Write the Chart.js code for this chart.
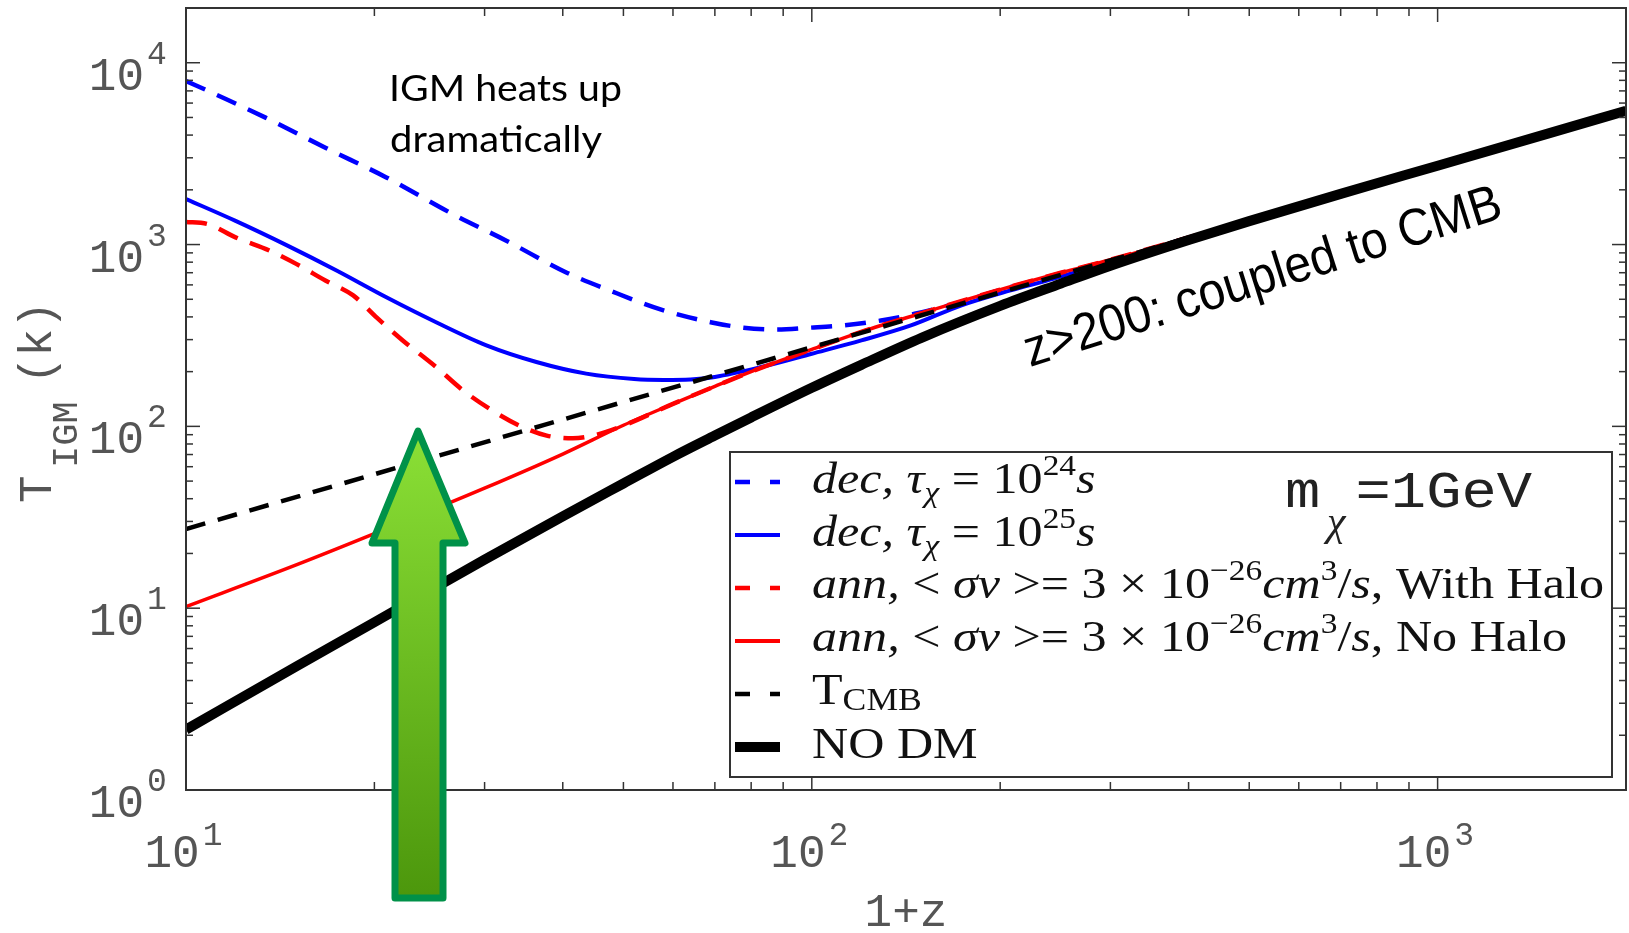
<!DOCTYPE html>
<html>
<head>
<meta charset="utf-8">
<script src="https://cdn.jsdelivr.net/npm/chart.js@4.4.1/dist/chart.umd.min.js"></script>
<style>
  html, body { margin: 0; padding: 0; background: #fff; }
  #wrap { width: 1629px; height: 933px; }
</style>
</head>
<body>
<div id="wrap"><canvas id="tigm" width="1629" height="933"></canvas></div>
<script>
// --- datos (1+z, T en K) ---
const zNoDM = [10, 15, 20, 30, 40, 50, 60, 70, 80, 100, 120, 150, 200, 250, 300, 400, 500, 700, 1000, 1500, 2000];
const tNoDM = [2.15, 4.78, 8.37, 18.5, 32, 48.5, 68, 89, 112, 163, 218, 308, 460, 610, 765, 1060, 1345, 1900, 2715, 4075, 5440];

const zCMB = [10, 2000];
const tCMB = [27.25, 5450];

const zDec24 = [10, 11.6, 13.4, 16.7, 20.9, 26.7, 32.5, 40.6, 47.6, 57.3, 68.9, 77.8, 87.9, 99.5, 112, 129, 146, 173, 207, 243, 300, 400, 500, 700, 1000, 2000];
const tDec24 = [7940, 6300, 4990, 3410, 2340, 1470, 1050, 700, 558, 440, 374, 349, 341, 349, 359, 382, 416, 482, 582, 660, 815, 1090, 1362, 1907, 2725, 5450];

const zDec25 = [10, 12, 14.5, 17.4, 20.9, 25.1, 30.2, 36.3, 43.6, 52, 58, 64, 70, 83, 100, 120, 144, 173, 207, 243, 300, 400, 500, 700, 1000, 2000];
const tDec25 = [1780, 1350, 990, 720, 513, 374, 279, 226, 195, 182, 180, 181, 187, 212, 251, 297, 359, 462, 558, 648, 805, 1085, 1360, 1905, 2722, 5448];

const zAnnHalo = [10, 10.8, 12, 13.6, 15, 16.7, 18.5, 20.2, 22.2, 25.1, 27.7, 30.9, 34.1, 37.7, 41.5, 44.7, 50, 60, 70, 80, 100, 120, 150, 200, 250, 300, 400, 500, 700, 1000, 2000];
const tAnnHalo = [1330, 1300, 1096, 926, 783, 634, 525, 395, 297, 212, 158, 122, 101, 89, 86, 89, 101, 133, 166, 200, 265, 331, 420, 565, 700, 825, 1095, 1365, 1908, 2725, 5450];

const zAnnNoHalo = [10, 15, 20, 30, 40, 50, 60, 70, 80, 100, 120, 150, 200, 250, 300, 400, 500, 700, 1000, 2000];
const tAnnNoHalo = [10.2, 17.3, 25.7, 45.7, 70.4, 101.4, 133, 166, 200, 265, 331, 420, 565, 700, 825, 1095, 1365, 1908, 2725, 5450];

// ticks
const xMajor = [10, 100, 1000];
const xExp = ['1', '2', '3'];
const yMajor = [1, 10, 100, 1000, 10000];
const yExp = ['0', '1', '2', '3', '4'];

const serie = (xs, ys, color, width, dash, order) => ({
    data: xs.map((x, i) => ({ x: x, y: ys[i] })),
    borderColor: color,
    borderWidth: width,
    borderDash: dash,
    borderCapStyle: 'butt',
    order: order,
    pointRadius: 0,
    fill: false,
    cubicInterpolationMode: 'monotone'
});

const MONO = '"Liberation Mono", "DejaVu Sans Mono", monospace';
const SERIF = '"Liberation Serif", "DejaVu Serif", serif';
const GRIS = '#555';

// dibuja texto con varias fuentes seguidas
function anchoRico(ctx, partes) {
    let w = 0;
    partes.forEach(p => { ctx.font = p.f; w += ctx.measureText(p.t).width; });
    return w;
}
function textoRico(ctx, x, y, partes, sx) {
    ctx.save();
    ctx.translate(x, y);
    ctx.scale(sx, 1);
    let cx = 0;
    partes.forEach(p => {
        ctx.font = p.f;
        ctx.fillText(p.t, cx, p.dy || 0);
        cx += ctx.measureText(p.t).width;
    });
    ctx.restore();
}
function textoAjustado(ctx, txt, x, y, font, ancho) {
    ctx.font = font;
    const sx = ancho / ctx.measureText(txt).width;
    ctx.save();
    ctx.translate(x, y);
    ctx.scale(sx, 1);
    ctx.fillText(txt, 0, 0);
    ctx.restore();
}

const fondo = {
    id: 'fondo',
    beforeDraw(chart) {
        const ctx = chart.ctx;
        ctx.save();
        ctx.fillStyle = '#fff';
        ctx.fillRect(0, 0, chart.width, chart.height);
        ctx.restore();
    }
};

const ejes = {
    id: 'ejes',
    afterDatasetsDraw(chart) {
        const ctx = chart.ctx;
        const a = chart.chartArea;
        const sx = chart.scales.x, sy = chart.scales.y;
        ctx.save();

        // --- leyenda ---
        const lx = 730, ly = 452, lw = 882, lh = 325;
        ctx.fillStyle = '#fff';
        ctx.fillRect(lx, ly, lw, lh);
        ctx.strokeStyle = '#333';
        ctx.lineWidth = 2;
        ctx.strokeRect(lx, ly, lw, lh);

        const muestras = [
            { c: '#0000ff', w: 4.5, d: [15, 20], y: 482 },
            { c: '#0000ff', w: 4, d: [], y: 535 },
            { c: '#ff0000', w: 4.5, d: [15, 20], y: 588 },
            { c: '#ff0000', w: 4, d: [], y: 641 },
            { c: '#000000', w: 4.5, d: [15, 20], y: 694 },
            { c: '#000000', w: 10, d: [], y: 747 }
        ];
        muestras.forEach(m => {
            ctx.beginPath();
            ctx.strokeStyle = m.c;
            ctx.lineWidth = m.w;
            ctx.setLineDash(m.d);
            ctx.moveTo(735, m.y);
            ctx.lineTo(780, m.y);
            ctx.stroke();
        });
        ctx.setLineDash([]);

        const I = 'italic 45px ' + SERIF, R = '45px ' + SERIF;
        const Is = 'italic 30px ' + SERIF, Rs = '30px ' + SERIF;
        const filas = [
            [{ t: 'dec,', f: I }, { t: ' ', f: R }, { t: 'τ', f: I }, { t: 'χ', f: Is, dy: 9 }, { t: ' = 10', f: R }, { t: '24', f: Rs, dy: -18 }, { t: 's', f: I }],
            [{ t: 'dec,', f: I }, { t: ' ', f: R }, { t: 'τ', f: I }, { t: 'χ', f: Is, dy: 9 }, { t: ' = 10', f: R }, { t: '25', f: Rs, dy: -18 }, { t: 's', f: I }],
            [{ t: 'ann,', f: I }, { t: ' < ', f: R }, { t: 'σv', f: I }, { t: ' >= 3 × 10', f: R }, { t: '−26', f: Rs, dy: -18 }, { t: 'cm', f: I }, { t: '3', f: Rs, dy: -18 }, { t: '/', f: R }, { t: 's', f: I }, { t: ', With Halo', f: R }],
            [{ t: 'ann,', f: I }, { t: ' < ', f: R }, { t: 'σv', f: I }, { t: ' >= 3 × 10', f: R }, { t: '−26', f: Rs, dy: -18 }, { t: 'cm', f: I }, { t: '3', f: Rs, dy: -18 }, { t: '/', f: R }, { t: 's', f: I }, { t: ', No Halo', f: R }],
            [{ t: 'T', f: R }, { t: 'CMB', f: '32px ' + SERIF, dy: 6 }],
            [{ t: 'NO DM', f: R }]
        ];
        const bases = [493, 546, 598, 651, 704, 758];
        const escala = 792 / anchoRico(ctx, filas[2]);
        ctx.fillStyle = '#111';
        ctx.textAlign = 'left';
        ctx.textBaseline = 'alphabetic';
        filas.forEach((f, i) => textoRico(ctx, 812, bases[i], f, escala));

        // m_chi = 1GeV
        ctx.fillStyle = '#222';
        textoAjustado(ctx, 'm =1GeV', 1285, 507, '52px ' + MONO, 247);
        ctx.font = 'italic 42px ' + SERIF;
        ctx.fillText('χ', 1327, 535);

        // --- marco y marcas hacia dentro ---
        ctx.strokeStyle = '#333';
        ctx.lineWidth = 1.5;
        const raya = (x1, y1, x2, y2) => { ctx.beginPath(); ctx.moveTo(x1, y1); ctx.lineTo(x2, y2); ctx.stroke(); };
        const xMenor = [], yMenor = [];
        xMajor.forEach(v => { for (let k = 2; k <= 9; k++) if (v * k < 2000) xMenor.push(v * k); });
        yMajor.forEach(v => { for (let k = 2; k <= 9; k++) if (v * k < 20000) yMenor.push(v * k); });
        xMajor.forEach(v => { const p = sx.getPixelForValue(v); raya(p, a.bottom, p, a.bottom - 14); raya(p, a.top, p, a.top + 14); });
        xMenor.forEach(v => { const p = sx.getPixelForValue(v); raya(p, a.bottom, p, a.bottom - 8); raya(p, a.top, p, a.top + 8); });
        yMajor.forEach(v => { const p = sy.getPixelForValue(v); raya(a.left, p, a.left + 14, p); raya(a.right, p, a.right - 14, p); });
        yMenor.forEach(v => { const p = sy.getPixelForValue(v); raya(a.left, p, a.left + 7, p); raya(a.right, p, a.right - 7, p); });
        ctx.lineWidth = 2;
        ctx.strokeRect(a.left, a.top, a.right - a.left, a.bottom - a.top);

        // --- etiquetas de los ejes ---
        const F46 = '46px ' + MONO, F33 = '33px ' + MONO;
        ctx.fillStyle = GRIS;
        yMajor.forEach((v, i) => {
            const p = sy.getPixelForValue(v);
            ctx.textAlign = 'right'; ctx.font = F46; ctx.fillText('10', 144, p + 27);
            ctx.textAlign = 'left'; ctx.font = F33; ctx.fillText(yExp[i], 147, p + 1);
        });
        ctx.textAlign = 'left';
        xMajor.forEach((v, i) => {
            const p = sx.getPixelForValue(v);
            ctx.font = F46; const w1 = ctx.measureText('10').width;
            ctx.font = F33; const w2 = ctx.measureText(xExp[i]).width;
            const x0 = p - (w1 + 2 + w2) / 2 - 3;
            ctx.font = F46; ctx.fillText('10', x0, 867);
            ctx.font = F33; ctx.fillText(xExp[i], x0 + w1 + 3, 845);
        });
        ctx.font = F46;
        ctx.textAlign = 'center';
        ctx.fillText('1+z', 906, 926);

        ctx.save();
        ctx.translate(51, 503);
        ctx.rotate(-Math.PI / 2);
        ctx.textAlign = 'left';
        ctx.font = F46; ctx.fillText('T', 0, 0);
        ctx.font = '37px ' + MONO; ctx.fillText('IGM', 35, 26);
        ctx.font = F46; ctx.fillText('(k)', 119, 0);
        ctx.restore();

        // --- flecha verde ---
        ctx.beginPath();
        ctx.moveTo(418, 431);
        ctx.lineTo(465, 543);
        ctx.lineTo(443, 543);
        ctx.lineTo(443, 898);
        ctx.lineTo(395, 898);
        ctx.lineTo(395, 543);
        ctx.lineTo(372, 543);
        ctx.closePath();
        const grad = ctx.createLinearGradient(0, 431, 0, 898);
        grad.addColorStop(0, '#8be036');
        grad.addColorStop(1, '#4c970c');
        ctx.fillStyle = grad;
        ctx.fill();
        ctx.lineJoin = 'round';
        ctx.lineWidth = 7;
        ctx.strokeStyle = '#009149';
        ctx.stroke();

        // --- anotaciones ---
        ctx.fillStyle = '#000';
        ctx.textAlign = 'left';
        textoAjustado(ctx, 'IGM heats up', 389, 101, '36px Lato, "Open Sans", sans-serif', 233);
        textoAjustado(ctx, 'dramatically', 390, 152, '36px Lato, "Open Sans", sans-serif', 212);

        ctx.save();
        ctx.translate(1030, 367);
        ctx.rotate(-17.5 * Math.PI / 180);
        textoAjustado(ctx, 'z>200: coupled to CMB', 0, 0, '52px "Liberation Sans", Arial, sans-serif', 498);
        ctx.restore();

        ctx.restore();
    }
};

new Chart(document.getElementById('tigm').getContext('2d'), {
    type: 'line',
    data: {
        datasets: [
            serie(zNoDM, tNoDM, '#000000', 10, [], 0),
            serie(zCMB, tCMB, '#000000', 4.5, [20, 13], 1),
            serie(zAnnNoHalo, tAnnNoHalo, '#ff0000', 3.5, [], 2),
            serie(zAnnHalo, tAnnHalo, '#ff0000', 4.5, [21, 13], 3),
            serie(zDec25, tDec25, '#0000ff', 4, [], 4),
            serie(zDec24, tDec24, '#0000ff', 4.5, [21, 13], 5)
        ]
    },
    options: {
        responsive: false,
        animation: false,
        devicePixelRatio: 1,
        layout: { padding: { left: 186, top: 8, right: 3, bottom: 143 } },
        plugins: {
            legend: { display: false },
            tooltip: { enabled: false }
        },
        scales: {
            x: { type: 'logarithmic', min: 10, max: 2000, display: false },
            y: { type: 'logarithmic', min: 1, max: 20000, display: false }
        }
    },
    plugins: [fondo, ejes]
});
</script>
</body>
</html>
